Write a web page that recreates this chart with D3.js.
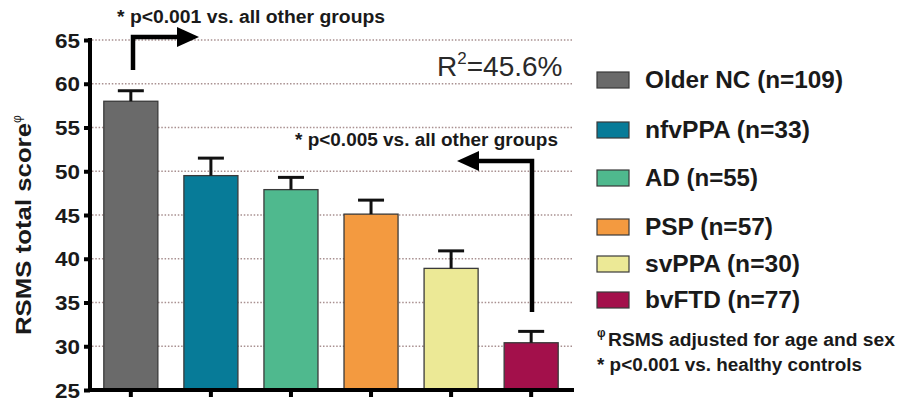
<!DOCTYPE html>
<html><head><meta charset="utf-8">
<script src="https://cdn.jsdelivr.net/npm/d3@7"></script>
<style>
body{margin:0;background:#fff;}
svg{display:block;}
text{font-family:"Liberation Sans",Arial,sans-serif;}
</style></head>
<body>
<svg id="chart" width="901" height="405"></svg>
<script>
const groups = ["Older NC","nfvPPA","AD","PSP","svPPA","bvFTD"];
const groupN = [109,33,55,57,30,77];
const means = [58.0,49.5,47.9,45.1,38.9,30.4];
const sems  = [1.2,2.0,1.4,1.6,2.0,1.3];
const colors = ["#6a6a6a","#077b98","#4fb98e","#f39a40","#ece996","#a3104b"];
const yTicks = [25,30,35,40,45,50,55,60,65];

const svg = d3.select("#chart");
const x = d3.scaleBand().domain(groups).range([91,571]).paddingInner(0.325).paddingOuter(0.16);
const y = d3.scaleLinear().domain([25,65]).range([390,40]);

function fit(sel, w){ sel.attr("textLength", w).attr("lengthAdjust","spacingAndGlyphs"); return sel; }

// gridlines
svg.append("g").selectAll("line").data(yTicks.filter(d=>d>25)).join("line")
  .attr("x1",92).attr("x2",572).attr("y1",d=>y(d)).attr("y2",d=>y(d))
  .attr("stroke","#a89090").attr("stroke-width",1.5).attr("stroke-dasharray","1.5,1.8");

// bars
svg.append("g").selectAll("rect").data(groups).join("rect")
  .attr("x",d=>x(d)).attr("width",x.bandwidth())
  .attr("y",(d,i)=>y(means[i])).attr("height",(d,i)=>y(25)-y(means[i]))
  .attr("fill",(d,i)=>colors[i]).attr("stroke","#3a3a3a").attr("stroke-width",1.3);

// error bars
const eb = svg.append("g").attr("stroke","#111").attr("stroke-width",3);
groups.forEach((g,i)=>{
  const cx = x(g)+x.bandwidth()/2;
  eb.append("line").attr("x1",cx).attr("x2",cx).attr("y1",y(means[i])).attr("y2",y(means[i]+sems[i]));
  eb.append("line").attr("x1",cx-13).attr("x2",cx+13).attr("y1",y(means[i]+sems[i])).attr("y2",y(means[i]+sems[i]));
});

// y axis
const yAxis = svg.append("g").attr("transform","translate(90,0)")
  .call(d3.axisLeft(y).tickValues(yTicks).tickSize(6).tickPadding(4));
yAxis.select(".domain").remove();
yAxis.selectAll(".tick line").attr("stroke","#000").attr("stroke-width",4);
yAxis.selectAll(".tick text").attr("font-size",20).attr("font-weight","bold").attr("fill","#1a1a1a")
  .attr("font-family","'Liberation Sans',Arial,sans-serif").attr("dy","0.36em")
  .attr("textLength",25).attr("lengthAdjust","spacingAndGlyphs");
svg.append("line").attr("x1",90).attr("x2",90).attr("y1",38).attr("y2",392).attr("stroke","#000").attr("stroke-width",4);

// x axis
const xAxis = svg.append("g").attr("transform","translate(0,390)")
  .call(d3.axisBottom(x).tickSize(7).tickFormat(""));
xAxis.select(".domain").remove();
xAxis.selectAll(".tick line").attr("stroke","#000").attr("stroke-width",4);
svg.append("line").attr("x1",88).attr("x2",574).attr("y1",390).attr("y2",390).attr("stroke","#000").attr("stroke-width",4);

// y label
const yl = svg.append("text").attr("transform","translate(31,335) rotate(-90)")
  .attr("font-size",22).attr("font-weight","bold").attr("fill","#1a1a1a");
fit(yl.append("tspan").text("RSMS total score"), 212);
yl.append("tspan").attr("dy",-10).attr("font-size",12).attr("font-weight","normal").text("φ");

// annotations
const ann = svg.append("g").attr("font-weight","bold").attr("fill","#1a1a1a");
fit(ann.append("text").attr("x",117).attr("y",23).attr("font-size",18).text("* p<0.001 vs. all other groups"), 268);
fit(ann.append("text").attr("x",295).attr("y",146).attr("font-size",18).text("* p<0.005 vs. all other groups"), 263);
const arr = svg.append("g");
arr.append("path").attr("d","M133,70 V37 H180").attr("fill","none").attr("stroke","#000").attr("stroke-width",4.5);
arr.append("path").attr("d","M177,27 L199,37 L177,47 Z").attr("fill","#000");
arr.append("path").attr("d","M532,312 V161 H476").attr("fill","none").attr("stroke","#000").attr("stroke-width",4.5);
arr.append("path").attr("d","M479,151 L457,161 L479,171 Z").attr("fill","#000");

// R2
const r2 = svg.append("text").attr("x",437).attr("y",76).attr("font-size",28).attr("fill","#2a2a2a");
r2.append("tspan").text("R");
r2.append("tspan").attr("dy",-12).attr("font-size",17).text("2");
r2.append("tspan").attr("dy",12).text("=45.6%");

// legend
const legY = [80,130,178,227,264,300];
const legW = [198,165,113,128,155,155];
const leg = svg.append("g");
groups.forEach((g,i)=>{
  leg.append("rect").attr("x",597).attr("y",legY[i]-8).attr("width",32).attr("height",16)
    .attr("fill",colors[i]).attr("stroke","#3a3a3a").attr("stroke-width",1.2);
  fit(leg.append("text").attr("x",645).attr("y",legY[i]+8).attr("font-size",23).attr("font-weight","bold")
    .attr("fill","#1a1a1a").text(`${g} (n=${groupN[i]})`), legW[i]);
});

// footnotes
const f1 = svg.append("text").attr("x",597).attr("y",346).attr("font-size",18).attr("font-weight","bold").attr("fill","#1a1a1a");
f1.append("tspan").attr("font-size",12).attr("dy",-9).text("φ");
fit(f1.append("tspan").attr("x",608).attr("dy",9).text("RSMS adjusted for age and sex"), 287);
fit(svg.append("text").attr("x",597).attr("y",371).attr("font-size",18).attr("font-weight","bold").attr("fill","#1a1a1a")
  .text("* p<0.001 vs. healthy controls"), 265);
</script>
</body></html>
